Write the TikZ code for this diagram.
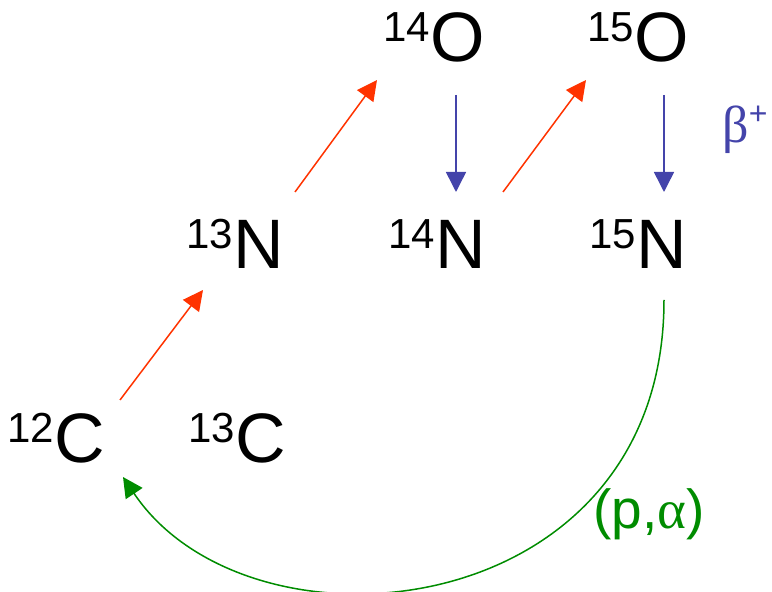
\documentclass[tikz,border=0pt]{standalone}
\usepackage{fontspec}
\setmainfont{Liberation Sans}
\newfontfamily\greekfont{Liberation Serif}
\usetikzlibrary{arrows.meta}
\newcommand{\isotope}[2]{\raisebox{20pt}{\fontsize{42}{42}\selectfont #1}#2}
\definecolor{capred}{HTML}{FF3300}
\definecolor{decayblue}{HTML}{4444AA}
\definecolor{loopgreen}{HTML}{008C00}
\tikzset{
  nucl/.style={anchor=base, inner sep=0pt, font=\fontsize{70}{80}\selectfont},
  capture/.style={capred, line width=1.5pt, -{Triangle[length=20pt,width=20pt]}},
  decay/.style={decayblue, line width=1.5pt, -{Triangle[length=20pt,width=20pt]}},
  cycle/.style={loopgreen, line width=1.5pt, -{Triangle[length=20pt,width=20pt]}}
}
\begin{document}
\begin{tikzpicture}[x=1pt, y=1pt]
  \useasboundingbox (0,0) rectangle (772,592);
  \foreach \nm/\px/\py/\a/\el in {
    c12/56/129/12/C,
    c13/237/129/13/C,
    n13/235/323/13/N,
    n14/437/323/14/N,
    n15/638/323/15/N,
    o14/434/530/14/O,
    o15/638/530/15/O} {
    \node[nucl] (\nm) at (\px,\py) {\isotope{\a}{\el}};
  }
  \draw[capture] ([shift={(64,63)}]c12.base) -- ([shift={(-32,-21)}]n13.base);
  \draw[capture] ([shift={(60,77)}]n13.base) -- ([shift={(-57,-18)}]o14.base);
  \draw[capture] ([shift={(66,77)}]n14.base) -- ([shift={(-52,-18)}]o15.base);
  \draw[decay] ([shift={(22,-33)}]o14.base) -- ([shift={(19,77)}]n14.base);
  \draw[decay] ([shift={(26,-33)}]o15.base) -- ([shift={(26,77)}]n15.base);
  \node[decayblue, inner sep=0pt] (beta) at (745,462)
    {\fontsize{52}{52}\selectfont\greekfont β\raisebox{18pt}{\rmfamily\fontsize{32}{32}\selectfont +}};
  \draw[cycle] ([shift={(26,-31)}]n15.base)
    .. controls (664,-34) and (250,-74) .. ([shift={(67,-14)}]c12.base);
  \node[loopgreen, inner sep=0pt] (palpha) at (649,78)
    {\fontsize{55}{55}\selectfont (p,{\greekfont α})};
\end{tikzpicture}
\end{document}
